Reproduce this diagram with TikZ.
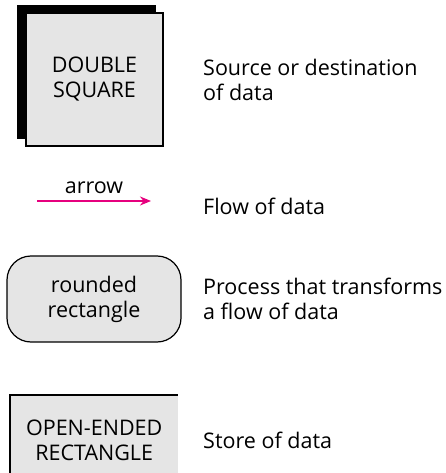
\documentclass[tikz,border=0pt]{standalone}
\usepackage{fontspec}
\usetikzlibrary{arrows.meta}
\setmainfont{Open Sans}
\definecolor{flowpink}{HTML}{E6007E}
\begin{document}
\begin{tikzpicture}[x=1pt,y=-1pt,every node/.style={font=\fontsize{21.5}{25}\selectfont},
  symbol/.style={draw,fill=gray!20,line width=1.2pt,align=center,inner sep=0pt},
  caption/.style={anchor=west,align=left,inner sep=0pt}]
  \useasboundingbox (0,0) rectangle (446,473);
  % double square
  \node[draw,fill=black,minimum width=138pt,minimum height=133pt] (dsback) at (86,71.5) {};
  \node[symbol,minimum width=137pt,minimum height=133pt] (dsquare) at (94.5,79.5) {DOUBLE\\SQUARE};
  \node[caption] (srclbl) at (203,79.5) {Source or destination\\of data};
  % arrow
  \coordinate (flowstart) at (37,201);
  \coordinate (flowend) at (151,201);
  \draw[-{Stealth[length=11pt,width=9pt]},flowpink,line width=1.8pt] (flowstart) -- (flowend) node[midway,above=3pt,text=black] (arrowlbl) {arrow};
  \node[caption] (flowlbl) at (203,206) {Flow of data};
  % rounded rectangle
  \node[symbol,rounded corners=24pt,minimum width=174pt,minimum height=86pt] (process) at (94,299) {rounded\\rectangle};
  \node[caption] (proclbl) at (203,299) {Process that transforms\\a flow of data};
  % open-ended rectangle
  \node[fill=gray!20,align=center,inner sep=0pt,minimum width=168pt,minimum height=90pt,anchor=north west] (store) at (10,395) {OPEN-ENDED\\RECTANGLE};
  \draw[line width=1.2pt] (store.south west) -- (store.north west) -- (store.north east);
  \node[caption] (storelbl) at (203,440) {Store of data};
\end{tikzpicture}
\end{document}
